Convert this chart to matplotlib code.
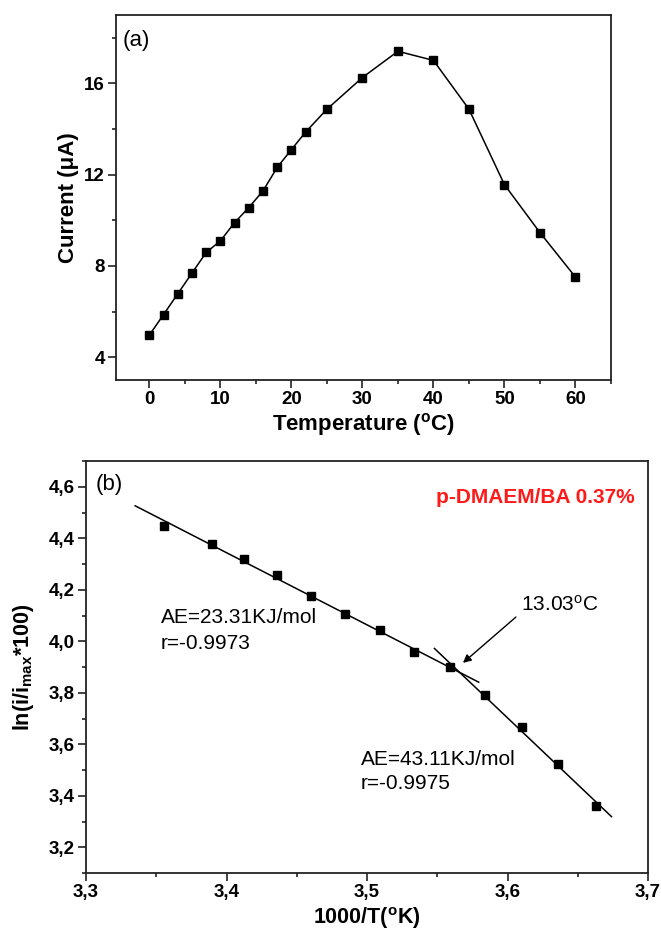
import numpy as np
import matplotlib
matplotlib.use('Agg')
import matplotlib.pyplot as plt
from matplotlib.ticker import MultipleLocator, FuncFormatter

# panel (a): current vs temperature
temp = [0, 2, 4, 6, 8, 10, 12, 14, 16, 18, 20, 22, 25, 30, 35, 40, 45, 50, 55, 60]
current = [4.97, 5.87, 6.78, 7.69, 8.59, 9.10, 9.90, 10.56, 11.29, 12.32,
           13.10, 13.87, 14.87, 16.26, 17.41, 17.01, 14.87, 11.56, 9.46, 7.51]

# panel (b): Arrhenius plot
inv_t = [3.3553, 3.3896, 3.4128, 3.4362, 3.4603, 3.4841, 3.5090,
         3.5337, 3.5592, 3.5839, 3.6100, 3.6362, 3.6630]
ln_i = [4.448, 4.378, 4.321, 4.259, 4.174, 4.107, 4.043,
        3.959, 3.901, 3.791, 3.667, 3.525, 3.361]
fit1_x = [3.335, 3.5795]
fit1_y = [4.526, 3.841]
fit2_x = [3.548, 3.674]
fit2_y = [3.972, 3.319]

plt.rcParams['font.family'] = ['Liberation Sans', 'DejaVu Sans']
plt.rcParams['mathtext.fontset'] = 'custom'
plt.rcParams['mathtext.rm'] = 'Liberation Sans'
plt.rcParams['mathtext.bf'] = 'Liberation Sans:bold'
plt.rcParams['mathtext.it'] = 'Liberation Sans:italic'

fig = plt.figure(figsize=(6.61, 9.32), dpi=100)
W, H = 661, 932

def style(ax):
    for s in ax.spines.values():
        s.set_linewidth(1.3)
        s.set_color('#222222')
    ax.tick_params(which='both', direction='out', top=False, right=False, width=1.2, color='#222222')
    ax.tick_params(which='major', length=5.5, pad=2.5, labelsize=13.5)
    ax.tick_params(which='minor', length=3)
    for lab in ax.get_xticklabels() + ax.get_yticklabels():
        lab.set_fontweight('bold')

# ---------------- (a) ----------------
ax1 = fig.add_axes([116 / W, 1 - 380 / H, (611 - 116) / W, (380 - 15) / H])
ax1.plot(temp, current, color='black', lw=1.1, marker='s', ms=6)
ax1.set_xlim(-4.7, 65)
ax1.set_ylim(3, 19)
ax1.xaxis.set_major_locator(MultipleLocator(10))
ax1.xaxis.set_minor_locator(MultipleLocator(5))
ax1.yaxis.set_major_locator(MultipleLocator(4))
ax1.yaxis.set_minor_locator(MultipleLocator(2))
style(ax1)
ax1.set_xlabel(r'Temperature ($^{\mathbf{o}}$C)', fontsize=16, fontweight='bold')
ax1.set_ylabel('Current (\u03bcA)', fontsize=16, fontweight='bold')
ax1.xaxis.set_label_coords(0.5, -0.085)
ax1.yaxis.set_label_coords(-0.075, 0.5)
ax1.text(-3.7, 17.9, '(a)', fontsize=16, va='center', ha='left')

# ---------------- (b) ----------------
ax2 = fig.add_axes([86 / W, 1 - 873 / H, (648 - 86) / W, (873 - 461) / H])
ax2.plot(inv_t, ln_i, 's', color='black', ms=6.3)
ax2.plot(fit1_x, fit1_y, color='black', lw=1.1)
ax2.plot(fit2_x, fit2_y, color='black', lw=1.1)
ax2.set_xlim(3.3, 3.7)
ax2.set_ylim(3.1, 4.7)
ax2.xaxis.set_major_locator(MultipleLocator(0.1))
ax2.xaxis.set_minor_locator(MultipleLocator(0.05))
ax2.yaxis.set_major_locator(MultipleLocator(0.2))
ax2.yaxis.set_minor_locator(MultipleLocator(0.1))
comma = FuncFormatter(lambda v, p: ('%.1f' % v).replace('.', ','))
ax2.xaxis.set_major_formatter(comma)
ax2.yaxis.set_major_formatter(comma)
style(ax2)
ax2.set_xlabel(r'1000/T($^{\mathbf{o}}$K)', fontsize=15.5, fontweight='bold')
ax2.set_ylabel(r'ln(i/i$_{\mathbf{max}}$*100)', fontsize=15.5, fontweight='bold')
ax2.xaxis.set_label_coords(0.5, -0.078)
ax2.yaxis.set_label_coords(-0.089, 0.5)

ax2.text(3.307, 4.607, '(b)', fontsize=16, va='center', ha='left')
ax2.text(3.6908, 4.560, 'p-DMAEM/BA 0.37%', fontsize=15, fontweight='bold',
         color='#ff1a1a', ha='right', va='center')
ax2.text(3.3534, 4.094, 'AE=23.31KJ/mol', fontsize=15, va='center', ha='left')
ax2.text(3.3534, 3.993, 'r=-0.9973', fontsize=15, va='center', ha='left')
ax2.text(3.4957, 3.539, 'AE=43.11KJ/mol', fontsize=15, va='center', ha='left')
ax2.text(3.4957, 3.446, 'r=-0.9975', fontsize=15, va='center', ha='left')
ax2.text(3.6096, 4.141, r'13.03$^{\rm o}$C', fontsize=15, va='center', ha='left')
ax2.annotate('', xy=(3.5683, 3.916), xytext=(3.606, 4.094),
             arrowprops=dict(arrowstyle='-|>', color='black', lw=1.0,
                             mutation_scale=12, shrinkA=0, shrinkB=0))

fig.savefig('out.png', dpi=100)
